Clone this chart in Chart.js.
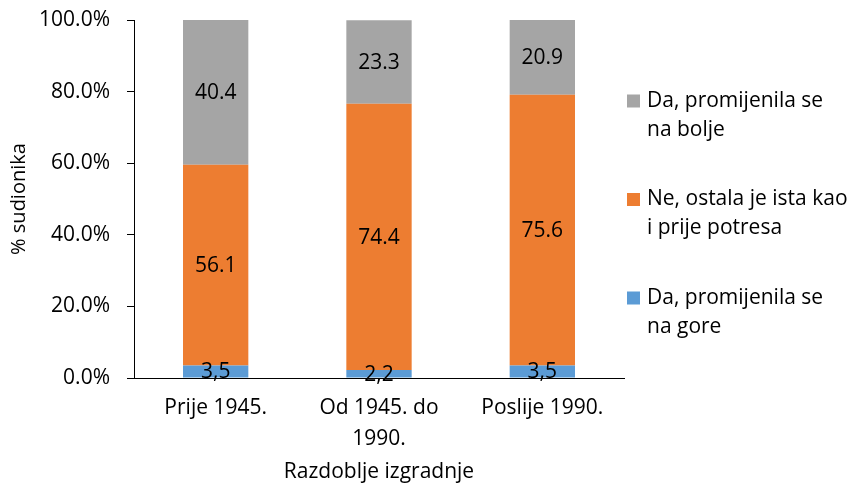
<!DOCTYPE html>
<html>
<head>
<meta charset="utf-8">
<script src="https://cdn.jsdelivr.net/npm/chart.js@4"></script>
<style>
  html, body { margin: 0; padding: 0; background: #fff; }
  #wrap { width: 851px; height: 485px; }
</style>
</head>
<body>
<div id="wrap"><canvas id="chart" width="851" height="485"></canvas></div>
<script>
const categories = ["Prije 1945.", ["Od 1945. do", "1990."], "Poslije 1990."];
const worseValues = [3.5, 2.2, 3.5];
const sameValues = [56.1, 74.4, 75.6];
const betterValues = [40.4, 23.3, 20.9];
const seriesNames = [
  ["Da, promijenila se", "na gore"],
  ["Ne, ostala je ista kao", "i prije potresa"],
  ["Da, promijenila se", "na bolje"]
];
const yTicks = [0, 20, 40, 60, 80, 100];

const FONT = "'Open Sans', sans-serif";
const TEXT = "#000";

// value labels inside each bar segment
const barLabels = {
  id: "barLabels",
  afterDatasetsDraw(chart) {
    const ctx = chart.ctx;
    ctx.save();
    ctx.font = "21px " + FONT;
    ctx.fillStyle = TEXT;
    ctx.textAlign = "center";
    ctx.textBaseline = "middle";
    chart.data.datasets.forEach((ds, di) => {
      const meta = chart.getDatasetMeta(di);
      meta.data.forEach((bar, i) => {
        let txt = ds.data[i].toFixed(1);
        if (di === 0) txt = txt.replace(".", ",");
        ctx.fillText(txt, bar.x, (bar.y + bar.base) / 2 + 1);
      });
    });
    ctx.restore();
  }
};

// legend on the right, two lines per entry, top entry = last dataset
const sideLegend = {
  id: "sideLegend",
  afterDraw(chart) {
    const ctx = chart.ctx;
    ctx.save();
    ctx.font = "21px " + FONT;
    ctx.textAlign = "left";
    ctx.textBaseline = "middle";
    const ds = chart.data.datasets.slice().reverse();
    ds.forEach((d, k) => {
      const cy = 101 + k * 98.5;
      ctx.fillStyle = d.backgroundColor;
      ctx.fillRect(627, cy - 6.5, 13, 13);
      ctx.fillStyle = TEXT;
      d.label.forEach((line, j) => {
        ctx.fillText(line, 647, cy + j * 29);
      });
    });
    ctx.restore();
  }
};

new Chart(document.getElementById("chart"), {
  type: "bar",
  data: {
    labels: categories,
    datasets: [
      { label: seriesNames[0], data: worseValues, backgroundColor: "#5B9BD5" },
      { label: seriesNames[1], data: sameValues, backgroundColor: "#ED7D31" },
      { label: seriesNames[2], data: betterValues, backgroundColor: "#A5A5A5" }
    ]
  },
  options: {
    responsive: false,
    animation: false,
    events: [],
    layout: { padding: { top: 20, right: 227, left: 0, bottom: 0 } },
    datasets: { bar: { barPercentage: 0.4, categoryPercentage: 1 } },
    plugins: { legend: { display: false }, tooltip: { enabled: false } },
    scales: {
      x: {
        stacked: true,
        afterFit(scale) { scale.height = 107; },
        border: { color: "#000", width: 1 },
        grid: {
          drawOnChartArea: false,
          tickLength: 6,
          color: (c) => (c.index === 3 ? "#000" : "rgba(0,0,0,0)")
        },
        ticks: {
          color: TEXT,
          font: { family: FONT, size: 21, lineHeight: 1.45 },
          padding: 9,
          maxRotation: 0,
          autoSkip: false
        },
        title: {
          display: true,
          text: "Razdoblje izgradnje",
          color: TEXT,
          font: { family: FONT, size: 21 },
          padding: { top: 0, bottom: 0 }
        }
      },
      y: {
        stacked: true,
        min: 0,
        max: 100,
        afterFit(scale) {
          scale.width = 134;
          scale.paddingTop = 0;
          scale.paddingBottom = 0;
        },
        afterBuildTicks(scale) { scale.ticks = yTicks.map((v) => ({ value: v })); },
        border: { color: "#000", width: 1 },
        grid: { drawOnChartArea: false, tickLength: 7, color: "#000" },
        ticks: {
          color: TEXT,
          font: { family: FONT, size: 21 },
          padding: 17,
          callback: (v) => v.toFixed(1) + "%"
        },
        title: {
          display: true,
          text: "% sudionika",
          color: TEXT,
          font: { family: FONT, size: 20 },
          padding: { top: 7, bottom: 0 }
        }
      }
    }
  },
  plugins: [barLabels, sideLegend]
});
</script>
</body>
</html>
